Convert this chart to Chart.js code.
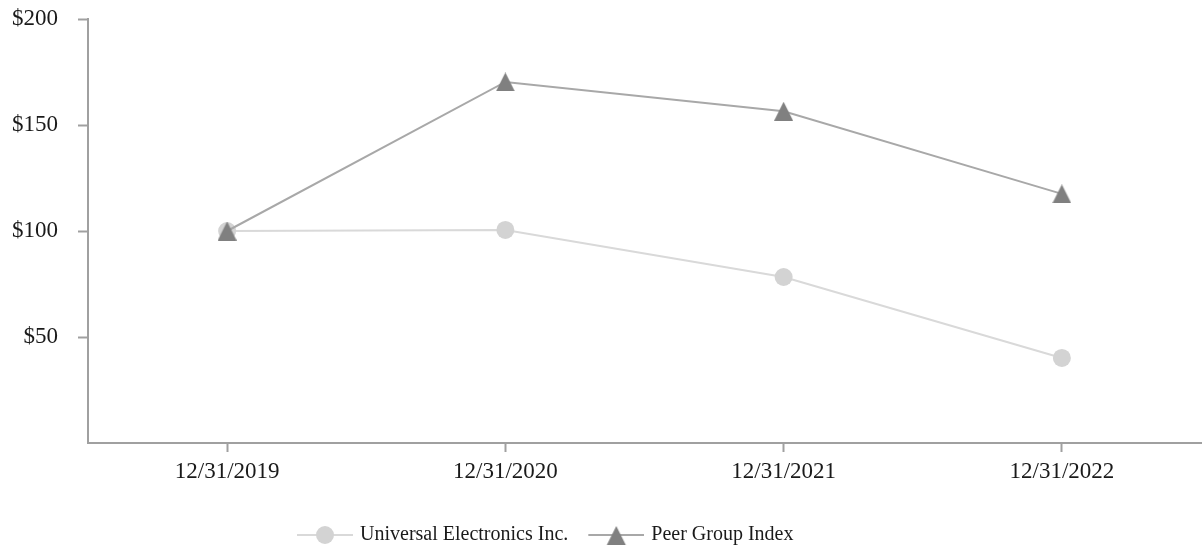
<!DOCTYPE html>
<html>
<head>
<meta charset="utf-8">
<script src="https://cdn.jsdelivr.net/npm/chart.js@4/dist/chart.umd.min.js"></script>
<style>
html,body{margin:0;padding:0;background:#fff;overflow:hidden;}
#wrap{width:1203px;height:550px;}
canvas{display:block;}
</style>
</head>
<body>
<div id="wrap"><canvas id="c" width="1203" height="550"></canvas></div>
<script>
const categories = ['12/31/2019', '12/31/2020', '12/31/2021', '12/31/2022'];
const seriesNames = ['Universal Electronics Inc.', 'Peer Group Index'];
const ueiValues = [100, 100.5, 78.3, 40.1];
const peerValues = [100, 170.3, 156.5, 117.5];
const yTickValues = [0, 50, 100, 150, 200];

const FONT = "'Liberation Serif', 'Times New Roman', serif";
const FS = 23;
const LFS = 20;
const AXIS = '#a0a0a0';
const TEXT = '#1a1a1a';
const UEI_LINE = '#d9d9d9', UEI_MARK = '#d3d3d3';
const PEER_LINE = '#a8a8a8', PEER_MARK = '#808080';
const ICON_MARGIN = 22;

function triangleCanvas(w, h, color) {
  const c = document.createElement('canvas');
  c.width = w; c.height = h;
  const g = c.getContext('2d');
  g.fillStyle = color;
  g.beginPath();
  g.moveTo(w / 2, 0);
  g.lineTo(w, h);
  g.lineTo(0, h);
  g.closePath();
  g.fill();
  return c;
}
function legendCanvas(kind, lineColor, markColor, margin) {
  const L = 56, W = Math.round(L + margin), H = 22;
  const m = W - L;
  const c = document.createElement('canvas');
  c.width = W; c.height = H;
  const g = c.getContext('2d');
  g.strokeStyle = lineColor; g.lineWidth = 2;
  g.beginPath(); g.moveTo(m, H / 2); g.lineTo(W, H / 2); g.stroke();
  g.fillStyle = markColor;
  const cx = m + L / 2;
  if (kind === 'circle') {
    g.beginPath(); g.arc(cx, H / 2, 9, 0, Math.PI * 2); g.fill();
  } else {
    g.beginPath();
    g.moveTo(cx, 2); g.lineTo(cx + 9.5, H - 1); g.lineTo(cx - 9.5, H - 1);
    g.closePath(); g.fill();
  }
  return c;
}
const triMark = triangleCanvas(19, 19, PEER_MARK);
const legendIcons = [legendCanvas('circle', UEI_LINE, UEI_MARK, ICON_MARGIN), legendCanvas('triangle', PEER_LINE, PEER_MARK, ICON_MARGIN)];

const legendShift = {
  id: 'legendShift',
  afterLayout(chart) {
    if (chart.legend) {
      chart.legend.left = 277;
      chart.legend.top = 524;
    }
  }
};

new Chart(document.getElementById('c'), {
  type: 'line',
  data: {
    labels: categories,
    datasets: [
      {
        label: seriesNames[0], data: ueiValues, order: 2,
        borderColor: UEI_LINE, borderWidth: 2, backgroundColor: UEI_MARK,
        pointStyle: 'circle', pointRadius: 9, pointBackgroundColor: UEI_MARK,
        pointBorderWidth: 0, pointHoverRadius: 9, tension: 0
      },
      {
        label: seriesNames[1], data: peerValues, order: 1,
        borderColor: PEER_LINE, borderWidth: 2, backgroundColor: PEER_MARK,
        pointStyle: triMark, pointRadius: 10, pointBorderWidth: 0, tension: 0
      }
    ]
  },
  plugins: [legendShift],
  options: {
    responsive: false,
    animation: false,
    devicePixelRatio: 1,
    layout: { autoPadding: false, padding: { left: 0, right: 2, top: 19, bottom: 0 } },
    plugins: {
      tooltip: { enabled: false },
      legend: {
        position: 'bottom',
        align: 'start',
        labels: {
          font: { family: FONT, size: LFS },
          color: TEXT,
          usePointStyle: true,
          pointStyleWidth: Math.round(56 + ICON_MARGIN) - 6,
          padding: 1,
          generateLabels: (chart) => chart.data.datasets.map((ds, i) => ({
            text: ds.label, pointStyle: legendIcons[i], fillStyle: 'transparent',
            strokeStyle: 'transparent', lineWidth: 0, hidden: false, datasetIndex: i, fontColor: TEXT
          }))
        }
      }
    },
    scales: {
      x: {
        type: 'category',
        offset: true,
        border: { color: AXIS, width: 2 },
        grid: { offset: false, drawOnChartArea: false, drawTicks: true, tickLength: 9, tickColor: AXIS, tickWidth: 2 },
        ticks: { font: { family: FONT, size: FS }, color: TEXT, padding: 6, maxRotation: 0 },
        afterFit: (s) => { s.paddingLeft = 0; s.paddingRight = 0; s.height = 76; }
      },
      y: {
        min: 0, max: 200,
        afterBuildTicks: (axis) => { axis.ticks = yTickValues.map(v => ({ value: v })); },
        border: { color: AXIS, width: 2 },
        grid: {
          drawOnChartArea: false, drawTicks: true, tickLength: 10, tickWidth: 2,
          tickColor: (ctx) => (ctx.tick && ctx.tick.value === 0) ? 'rgba(0,0,0,0)' : AXIS
        },
        ticks: {
          font: { family: FONT, size: FS }, color: TEXT, padding: 20,
          callback: (v) => v === 0 ? '' : '$' + v
        },
        afterFit: (s) => { s.paddingTop = 0; s.paddingBottom = 0; s.width = 88; }
      }
    }
  }
});
</script>
</body>
</html>
